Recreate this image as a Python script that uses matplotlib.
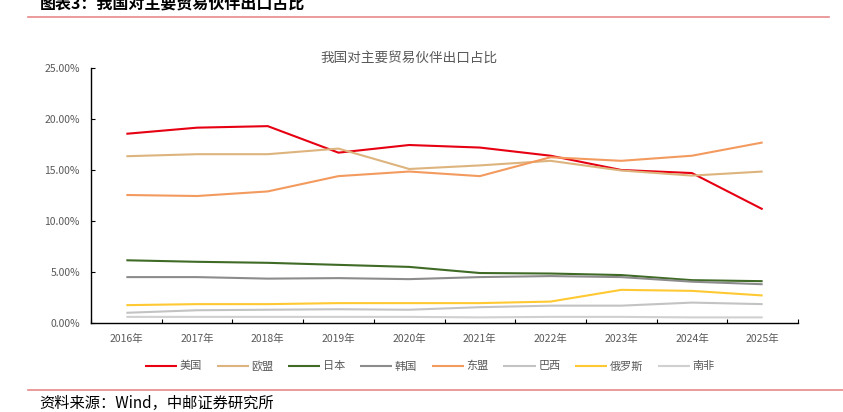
import matplotlib
matplotlib.use('Agg')
import matplotlib.pyplot as plt
from matplotlib.lines import Line2D
from matplotlib.ticker import FixedLocator, FuncFormatter

plt.rcParams['font.family'] = ['Noto Sans CJK SC', 'DejaVu Sans']

# 数据（读图估计，单位 %）
years = ['2016年', '2017年', '2018年', '2019年', '2020年',
         '2021年', '2022年', '2023年', '2024年', '2025年']
usa = [18.55, 19.15, 19.3, 16.7, 17.45, 17.2, 16.4, 15.0, 14.7, 11.15]
eu = [16.35, 16.55, 16.55, 17.1, 15.1, 15.45, 15.9, 14.95, 14.45, 14.85]
japan = [6.15, 6.0, 5.9, 5.7, 5.5, 4.9, 4.85, 4.7, 4.2, 4.1]
korea = [4.5, 4.5, 4.35, 4.4, 4.3, 4.5, 4.6, 4.5, 4.05, 3.8]
asean = [12.55, 12.45, 12.9, 14.4, 14.85, 14.4, 16.25, 15.9, 16.4, 17.7]
brazil = [1.0, 1.25, 1.3, 1.35, 1.3, 1.55, 1.7, 1.7, 2.0, 1.85]
russia = [1.75, 1.85, 1.85, 1.95, 1.95, 1.95, 2.1, 3.25, 3.15, 2.7]
safrica = [0.6, 0.6, 0.6, 0.6, 0.6, 0.55, 0.6, 0.6, 0.55, 0.55]

series = [
    ('美国', usa, '#E60012'),
    ('欧盟', eu, '#DDB47E'),
    ('日本', japan, '#3F6B26'),
    ('韩国', korea, '#8C8C8C'),
    ('东盟', asean, '#F39A5E'),
    ('巴西', brazil, '#C3C3C3'),
    ('俄罗斯', russia, '#FFC933'),
    ('南非', safrica, '#D0D0D0'),
]

W, H = 843, 412
fig = plt.figure(figsize=(W / 100, H / 100), dpi=100)
ax = fig.add_axes([91 / W, (H - 323) / H, (798 - 91) / W, (323 - 68) / H])

x = list(range(len(years)))
for name, vals, color in series:
    ax.plot(x, vals, color=color, lw=1.5, label=name, solid_capstyle='butt')

ax.set_xlim(-0.5, len(years) - 0.5)
ax.set_ylim(0, 25)

# x 轴：刻度线在分类之间，标签在分类中心
ax.xaxis.set_major_locator(FixedLocator([i - 0.5 for i in range(len(years) + 1)]))
ax.xaxis.set_major_formatter(FuncFormatter(lambda v, p: ''))
ax.xaxis.set_minor_locator(FixedLocator(x))
ax.set_xticklabels(years, minor=True)
ax.tick_params(axis='x', which='major', direction='in', length=3, width=0.8, color='black')
ax.tick_params(axis='x', which='minor', length=0, pad=8, labelsize=7.5, labelcolor='#595959')

ax.set_yticks([0, 5, 10, 15, 20, 25])
ax.yaxis.set_major_formatter(FuncFormatter(lambda v, p: f'{v:.2f}%'))
ax.tick_params(axis='y', direction='in', length=3, width=0.8, pad=8,
               labelsize=7.5, labelcolor='#595959')

for side in ['top', 'right']:
    ax.spines[side].set_visible(False)
for side in ['left', 'bottom']:
    ax.spines[side].set_linewidth(1.0)
    ax.spines[side].set_color('black')

fig.text(409 / W, 1 - 58 / H, '我国对主要贸易伙伴出口占比', ha='center', va='center',
         fontsize=9.8, color='#595959')

fig.legend(loc='center', bbox_to_anchor=(430 / W, 1 - 366 / H), ncol=8, frameon=False,
           fontsize=8, handlelength=2.9, handletextpad=0.25, columnspacing=1.3,
           labelcolor='#595959')

# 页眉 / 页脚
fig.text(40 / W, 1 - 4 / H, '图表3：我国对主要贸易伙伴出口占比', ha='left', va='center',
         fontsize=11.5, fontweight='bold', color='black')
fig.add_artist(Line2D([28 / W, 829 / W], [1 - 17 / H, 1 - 17 / H], color='#E88A8A', lw=1.2))
fig.add_artist(Line2D([28 / W, 1.0], [1 - 390 / H, 1 - 390 / H], color='#E88A8A', lw=1.2))
fig.text(39 / W, 1 - 403 / H, '资料来源：Wind，中邮证券研究所', ha='left', va='center',
         fontsize=11, color='black')

fig.savefig('out.png', dpi=100)
